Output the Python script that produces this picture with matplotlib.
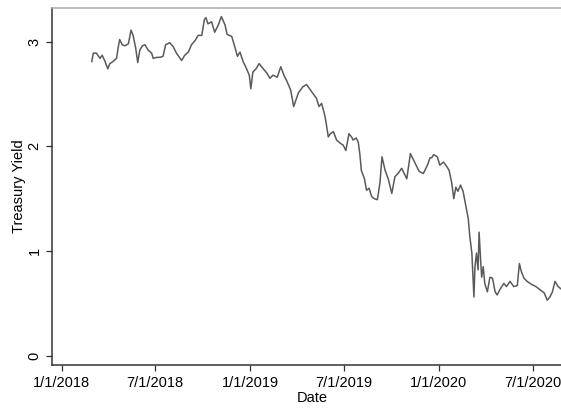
import matplotlib
matplotlib.use("Agg")
import matplotlib.pyplot as plt
import matplotlib.dates as mdates
import pandas as pd

plt.rcParams['font.family'] = ['Liberation Sans', 'DejaVu Sans']

# 10年国債利回り
dates = [
    "2018-02-28", "2018-03-03", "2018-03-09", "2018-03-16", "2018-03-20", "2018-03-25",
    "2018-03-31", "2018-04-04", "2018-04-10", "2018-04-17", "2018-04-20", "2018-04-23",
    "2018-04-28", "2018-05-03", "2018-05-10", "2018-05-15", "2018-05-19", "2018-05-24",
    "2018-05-28", "2018-06-01", "2018-06-06", "2018-06-11", "2018-06-17", "2018-06-24",
    "2018-06-27", "2018-07-04", "2018-07-10", "2018-07-16", "2018-07-21", "2018-07-29",
    "2018-08-05", "2018-08-11", "2018-08-21", "2018-08-27", "2018-09-03", "2018-09-09",
    "2018-09-16", "2018-09-22", "2018-09-29", "2018-10-04", "2018-10-07", "2018-10-11",
    "2018-10-18", "2018-10-24", "2018-10-31", "2018-11-06", "2018-11-13", "2018-11-17",
    "2018-11-26", "2018-12-02", "2018-12-07", "2018-12-12", "2018-12-18", "2018-12-23",
    "2018-12-30", "2019-01-02", "2019-01-06", "2019-01-12", "2019-01-18", "2019-01-26",
    "2019-02-02", "2019-02-08", "2019-02-14", "2019-02-22", "2019-03-01", "2019-03-07",
    "2019-03-13", "2019-03-20", "2019-03-26", "2019-04-04", "2019-04-13", "2019-04-20",
    "2019-04-30", "2019-05-09", "2019-05-14", "2019-05-19", "2019-05-24", "2019-05-27",
    "2019-06-01", "2019-06-05", "2019-06-11", "2019-06-17", "2019-06-24", "2019-06-30",
    "2019-07-05", "2019-07-11", "2019-07-16", "2019-07-19", "2019-07-25", "2019-07-29",
    "2019-08-01", "2019-08-04", "2019-08-10", "2019-08-14", "2019-08-19", "2019-08-24",
    "2019-08-29", "2019-09-04", "2019-09-09", "2019-09-13", "2019-09-19", "2019-09-25",
    "2019-10-02", "2019-10-08", "2019-10-14", "2019-10-21", "2019-10-31", "2019-11-07",
    "2019-11-16", "2019-11-24", "2019-12-02", "2019-12-10", "2019-12-15", "2019-12-18",
    "2019-12-22", "2019-12-29", "2020-01-03", "2020-01-10", "2020-01-16", "2020-01-21",
    "2020-01-26", "2020-01-30", "2020-02-03", "2020-02-07", "2020-02-12", "2020-02-17",
    "2020-02-22", "2020-02-27", "2020-03-01", "2020-03-05", "2020-03-09", "2020-03-11",
    "2020-03-14", "2020-03-17", "2020-03-19", "2020-03-22", "2020-03-24", "2020-03-27",
    "2020-03-30", "2020-04-04", "2020-04-09", "2020-04-14", "2020-04-19", "2020-04-23",
    "2020-04-28", "2020-05-06", "2020-05-11", "2020-05-18", "2020-05-25", "2020-06-01",
    "2020-06-05", "2020-06-09", "2020-06-14", "2020-06-20", "2020-06-29", "2020-07-07",
    "2020-07-15", "2020-07-23", "2020-07-29", "2020-08-03", "2020-08-08", "2020-08-13",
    "2020-08-19", "2020-08-24",
]
yields = [
    2.81, 2.89, 2.89, 2.84, 2.87, 2.82,
    2.74, 2.79, 2.81, 2.84, 2.94, 3.02,
    2.97, 2.96, 2.98, 3.11, 3.06, 2.94,
    2.80, 2.92, 2.96, 2.97, 2.92, 2.89,
    2.84, 2.85, 2.85, 2.86, 2.97, 2.99,
    2.95, 2.89, 2.82, 2.87, 2.90, 2.97,
    3.01, 3.06, 3.06, 3.21, 3.23, 3.17,
    3.19, 3.09, 3.16, 3.24, 3.16, 3.07,
    3.05, 2.95, 2.86, 2.90, 2.81, 2.76,
    2.68, 2.55, 2.71, 2.74, 2.79, 2.74,
    2.70, 2.65, 2.68, 2.66, 2.76, 2.68,
    2.62, 2.54, 2.38, 2.51, 2.57, 2.59,
    2.52, 2.46, 2.38, 2.41, 2.32, 2.25,
    2.09, 2.12, 2.14, 2.06, 2.03, 2.01,
    1.96, 2.12, 2.09, 2.06, 2.08, 2.04,
    1.93, 1.77, 1.69, 1.58, 1.60, 1.52,
    1.50, 1.49, 1.65, 1.90, 1.77, 1.69,
    1.55, 1.71, 1.74, 1.79, 1.69, 1.93,
    1.84, 1.76, 1.74, 1.82, 1.89, 1.89,
    1.92, 1.90, 1.82, 1.85, 1.81, 1.77,
    1.65, 1.50, 1.61, 1.57, 1.63, 1.57,
    1.44, 1.31, 1.14, 0.98, 0.56, 0.85,
    0.98, 0.82, 1.18, 0.91, 0.75, 0.85,
    0.69, 0.61, 0.75, 0.74, 0.61, 0.58,
    0.63, 0.69, 0.66, 0.71, 0.66, 0.67,
    0.88, 0.80, 0.74, 0.71, 0.68, 0.66,
    0.63, 0.60, 0.53, 0.56, 0.61, 0.71,
    0.66, 0.64,
]

tick_dates = ["2018-01-01", "2018-07-01", "2019-01-01", "2019-07-01", "2020-01-01", "2020-07-01"]
tick_labels = ["1/1/2018", "7/1/2018", "1/1/2019", "7/1/2019", "1/1/2020", "7/1/2020"]
y_ticks = [0, 1, 2, 3]

df = pd.DataFrame({"date": pd.to_datetime(dates), "yield": yields})

fig = plt.figure(figsize=(5.61, 4.09), dpi=100)
ax = fig.add_axes([0.0927, 0.1076, 0.927, 0.874])

ax.plot(df["date"], df["yield"], color="#5a5a5a", linewidth=1.1)

ax.set_xlim(pd.Timestamp("2017-12-13"), pd.Timestamp("2020-09-15"))
ax.set_ylim(-0.089, 3.326)

ax.set_xticks(pd.to_datetime(tick_dates))
ax.set_xticklabels(tick_labels)
ax.set_yticks(y_ticks)
ax.set_yticklabels([str(v) for v in y_ticks], rotation=90, va="center")

ax.tick_params(axis="both", direction="out", length=4.3, width=0.9,
               color="#333333", labelsize=10.5, pad=3.3)

for side in ["left", "bottom"]:
    ax.spines[side].set_color("#333333")
    ax.spines[side].set_linewidth(1.1)
ax.spines["top"].set_color("#a8a8a8")
ax.spines["top"].set_linewidth(1.1)
ax.spines["right"].set_visible(False)

ax.set_xlabel("Date", fontsize=10.5, va="center")
ax.xaxis.set_label_coords(0.5, -0.092)
ax.set_ylabel("Treasury Yield", fontsize=10.5, va="center")
ax.yaxis.set_label_coords(-0.063, 0.5)

fig.savefig("out.png", dpi=100)
plt.close(fig)
